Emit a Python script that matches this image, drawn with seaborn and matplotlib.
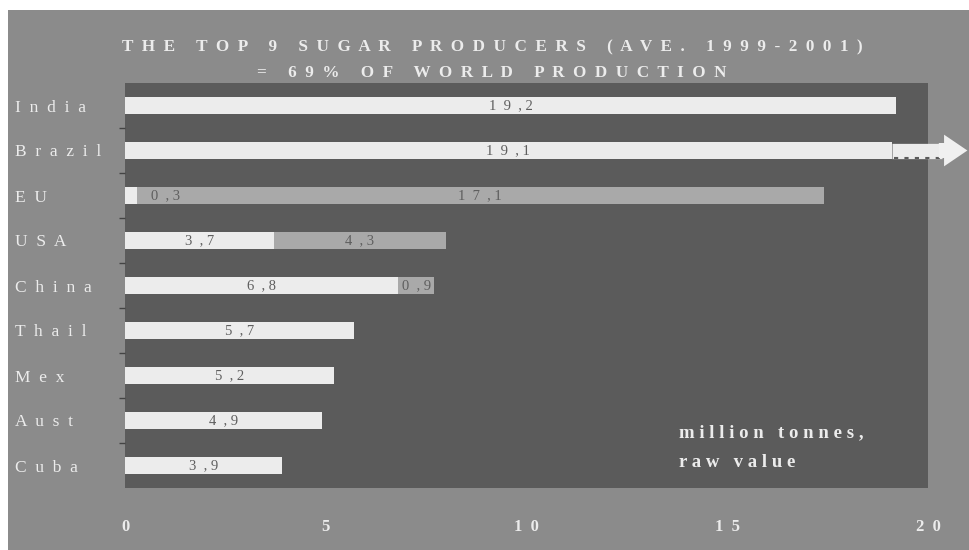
import matplotlib
matplotlib.use("Agg")
import matplotlib.pyplot as plt
from matplotlib.patches import Rectangle
import seaborn as sns
import pandas as pd

countries = ["India", "Brazil", "EU", "USA", "China", "Thail", "Mex", "Aust", "Cuba"]
first_seg = [19.2, 19.1, 0.3, 3.7, 6.8, 5.7, 5.2, 4.9, 3.9]
second_seg = [0.0, 0.0, 17.1, 4.3, 0.9, 0.0, 0.0, 0.0, 0.0]
x_ticks = [0, 5, 10, 15, 20]
title_lines = ["THE TOP 9 SUGAR PRODUCERS (AVE. 1999-2001)", "= 69% OF WORLD PRODUCTION"]
unit_lines = ["million tonnes,", "raw value"]

def spaced(s, sep=" "):
    return sep.join(s)

def fmt(v):
    whole, dec = f"{v:.1f}".split(".")
    return "  ".join(whole) + "  , " + dec

totals = [a + b for a, b in zip(first_seg, second_seg)]
df = pd.DataFrame({"country": countries, "first": first_seg, "total": totals})

sns.set_theme(style="dark")
plt.rcParams["font.family"] = ["Liberation Serif", "DejaVu Serif"]

fig = plt.figure(figsize=(9.69, 5.5), dpi=100, facecolor="#8b8b8b")
# white scan border top and left
fig.patches.append(Rectangle((0, 540 / 550), 1, 10 / 550, transform=fig.transFigure,
                             facecolor="white", edgecolor="none", zorder=-5))
fig.patches.append(Rectangle((0, 0), 8 / 969, 1, transform=fig.transFigure,
                             facecolor="white", edgecolor="none", zorder=-5))
ax = fig.add_axes([125 / 969, (550 - 488) / 550, (928 - 125) / 969, (488 - 83) / 550])
ax.set_facecolor("#5b5b5b")

sns.barplot(data=df, y="country", x="total", orient="h", color="#a9a9a9",
            saturation=1, width=0.36, ax=ax, edgecolor="none")
sns.barplot(data=df, y="country", x="first", orient="h", color="#ececec",
            saturation=1, width=0.36, ax=ax, edgecolor="none")

txt_col = "#5e5e5e"
for i, (a, b) in enumerate(zip(first_seg, second_seg)):
    if a < 1:
        ax.text(a + 0.35, i, fmt(a), ha="left", va="center", fontsize=10.5, color=txt_col)
    else:
        ax.text(a / 2, i, fmt(a), ha="center", va="center", fontsize=10.5, color=txt_col)
    if b > 0:
        ax.text(a + b / 2, i, fmt(b), ha="center", va="center", fontsize=10.5, color=txt_col)

# Brazil arrow going off the chart
bi = countries.index("Brazil")
ax.plot([first_seg[bi], first_seg[bi] + 1.25], [bi, bi], color="#ececec", lw=11,
        clip_on=False, solid_capstyle="butt")
ax.plot([first_seg[bi] + 0.05, first_seg[bi] + 1.2], [bi + 0.17, bi + 0.17], color="#5b5b5b",
        lw=1.5, ls=(0, (2, 3)), clip_on=False)
ax.annotate("", xy=(21.05, bi), xytext=(first_seg[bi] + 1.1, bi),
            arrowprops=dict(arrowstyle="simple,head_length=1.4,head_width=1.9,tail_width=0.9",
                            color="#f0f0f0", lw=0), annotation_clip=False)

ax.set_xlim(0, 20)
ax.set_ylim(8.5, -0.5)
ax.set_xticks(x_ticks)
ax.set_xticklabels([spaced(str(t), "  ") for t in x_ticks], fontsize=12, color="#ececec",
                   fontweight="bold")
ax.set_yticks(range(len(countries)))
ax.set_yticklabels([spaced(c, "  ") for c in countries], fontsize=12.5, color="#ececec")
for lab in ax.get_yticklabels():
    lab.set_horizontalalignment("left")
ax.tick_params(axis="y", pad=79, length=0)
ax.tick_params(axis="x", pad=22, length=0)
ax.set_yticks([k + 0.5 for k in range(len(countries) - 1)], minor=True)
ax.tick_params(axis="y", which="minor", length=4, width=1, color="#444444", left=True)
ax.set_xlabel("")
ax.set_ylabel("")
for s in ax.spines.values():
    s.set_visible(False)
ax.grid(False)

for k, yy in enumerate([47, 73]):
    fig.text(492 / 969, 1 - yy / 550, spaced(title_lines[k], "  "),
             ha="center", va="center", fontsize=12.3, fontweight="bold", color="#ececec")

ax.text(13.8, 7.28, spaced(unit_lines[0]), ha="left", va="center", fontsize=13.5,
        fontweight="bold", color="#ececec")
ax.text(13.8, 7.94, spaced(unit_lines[1]), ha="left", va="center", fontsize=13.5,
        fontweight="bold", color="#ececec")

fig.savefig("out.png", dpi=100, facecolor=fig.get_facecolor())
